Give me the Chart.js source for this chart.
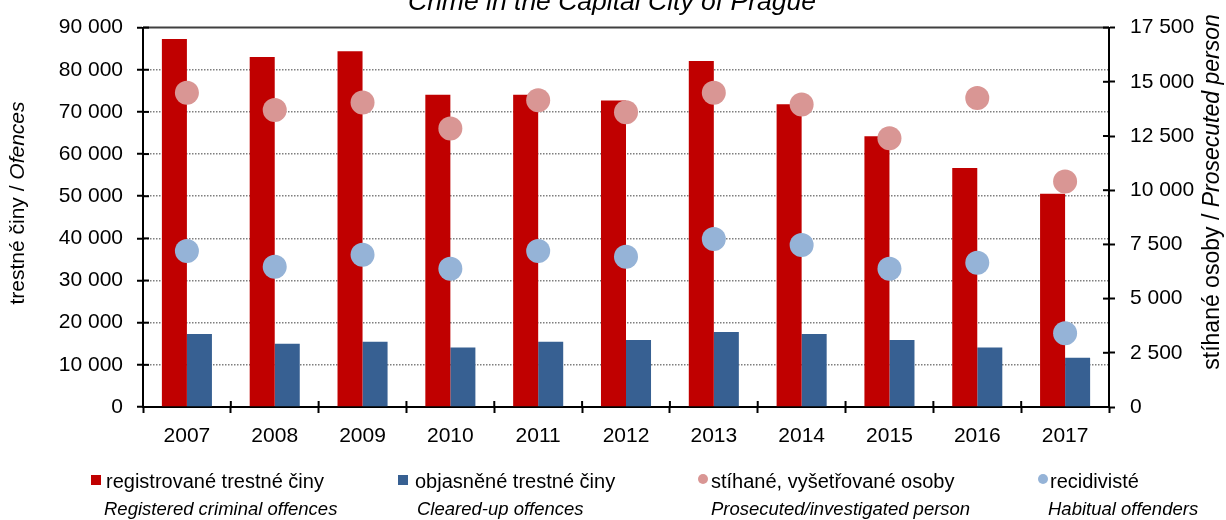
<!DOCTYPE html>
<html>
<head>
<meta charset="utf-8">
<title>Kriminalita v hl. m. Praze</title>
<script src="https://cdn.jsdelivr.net/npm/chart.js@4.4.1/dist/chart.umd.min.js"></script>
<style>
  html, body { margin: 0; padding: 0; background: #ffffff; }
  #wrap { width: 1226px; height: 520px; position: relative; }
</style>
</head>
<body>
<div id="wrap"><canvas id="crimeChart" width="1226" height="520"></canvas></div>
<script>
// years on the x axis
var years = ['2007', '2008', '2009', '2010', '2011', '2012', '2013', '2014', '2015', '2016', '2017'];

// offences (left axis)
var registeredOffences = [87300, 83000, 84400, 74100, 74100, 72700, 82100, 71800, 64200, 56700, 50600];
var clearedOffences = [17300, 15000, 15500, 14100, 15500, 15900, 17800, 17300, 15900, 14100, 11700];

// persons (right axis)
var prosecutedPersons = [14500, 13700, 14050, 12850, 14150, 13600, 14500, 13950, 12400, 14250, 10400];
var habitualOffenders = [7200, 6470, 7020, 6380, 7200, 6930, 7750, 7470, 6380, 6650, 3400];

// tick labels
var offenceTicks = [0, 10000, 20000, 30000, 40000, 50000, 60000, 70000, 80000, 90000];
var personTicks = [0, 2500, 5000, 7500, 10000, 12500, 15000, 17500];

// texts
var chartTitle = 'Crime in the Capital City of Prague';
var seriesCz = ['registrované trestné činy', 'objasněné trestné činy', 'stíhané, vyšetřované osoby', 'recidivisté'];
var seriesEn = ['Registered criminal offences', 'Cleared-up offences', 'Prosecuted/investigated person', 'Habitual offenders'];
var leftTitle = [['trestné činy / ', false], ['Ofences', true]];
var rightTitle = [['stíhané osoby / ', false], ['Prosecuted person', true]];

var FONT = '"Liberation Sans", Arial, sans-serif';

function spaced(v) {
    return String(v).replace(/\B(?=(\d{3})+(?!\d))/g, ' ');
}

function fontStr(size, italic) {
    return (italic ? 'italic ' : '') + size + 'px ' + FONT;
}

// rotated axis title made of plain and italic pieces
function drawVerticalTitle(ctx, parts, cx, cy, size) {
    var total = 0;
    var widths = parts.map(function(p) {
        ctx.font = fontStr(size, p[1]);
        var w = ctx.measureText(p[0]).width;
        total += w;
        return w;
    });
    ctx.save();
    ctx.translate(cx, cy);
    ctx.rotate(-Math.PI / 2);
    ctx.textAlign = 'left';
    ctx.textBaseline = 'middle';
    ctx.fillStyle = '#000';
    var pos = -total / 2;
    parts.forEach(function(p, i) {
        ctx.font = fontStr(size, p[1]);
        ctx.fillText(p[0], pos, 0);
        pos += widths[i];
    });
    ctx.restore();
}

function stroke(ctx, x1, y1, x2, y2) {
    ctx.beginPath();
    ctx.moveTo(x1, y1);
    ctx.lineTo(x2, y2);
    ctx.stroke();
}

var decorPlugin = {
    id: 'decor',
    afterDraw: function(chart) {
        var ctx = chart.ctx;
        var area = chart.chartArea;
        var xs = chart.scales.x, ys = chart.scales.y, ys1 = chart.scales.y1;
        ctx.save();

        // frame line on top of the plot
        ctx.strokeStyle = '#404040';
        ctx.lineWidth = 2;
        stroke(ctx, area.left, area.top, area.right, area.top);

        // inner half of every axis tick
        ctx.strokeStyle = '#000';
        ys.ticks.forEach(function(t) {
            var py = ys.getPixelForValue(t.value);
            stroke(ctx, area.left, py, area.left + 6, py);
        });
        ys1.ticks.forEach(function(t) {
            var py = ys1.getPixelForValue(t.value);
            stroke(ctx, area.right - 6, py, area.right, py);
        });
        var step = xs.getPixelForValue(1) - xs.getPixelForValue(0);
        for (var i = 0; i <= years.length; i++) {
            var px = xs.getPixelForValue(0) - step / 2 + i * step;
            stroke(ctx, px, area.bottom - 6, px, area.bottom);
        }

        // title, partly above the canvas edge
        ctx.fillStyle = '#000';
        ctx.font = fontStr(26.5, true);
        ctx.textAlign = 'center';
        ctx.textBaseline = 'alphabetic';
        ctx.fillText(chartTitle, 612, 10);

        drawVerticalTitle(ctx, leftTitle, 18, 203, 21);
        drawVerticalTitle(ctx, rightTitle, 1213, 192, 23);

        // legend: two text lines per series
        var markX = [91, 398, 700, 1040];
        var textX = [106, 415, 711, 1050];
        var enX = [104, 417, 711, 1048];
        chart.data.datasets.forEach(function(ds, k) {
            ctx.fillStyle = ds.backgroundColor;
            if (ds.type === 'bar') {
                ctx.fillRect(markX[k], 475, 10, 10);
            } else {
                ctx.beginPath();
                ctx.arc(markX[k] + 3, 479, 5, 0, Math.PI * 2);
                ctx.fill();
            }
            ctx.fillStyle = '#000';
            ctx.textAlign = 'left';
            ctx.textBaseline = 'middle';
            ctx.font = fontStr(20, false);
            ctx.fillText(seriesCz[k], textX[k], 482);
            ctx.font = fontStr(18.5, true);
            ctx.fillText(seriesEn[k], enX[k], 510);
        });

        ctx.restore();
    }
};

var ctx = document.getElementById('crimeChart').getContext('2d');
var crimeChart = new Chart(ctx, {
    data: {
        labels: years,
        datasets: [{
            type: 'bar',
            label: seriesCz[0],
            data: registeredOffences,
            backgroundColor: '#C00000',
            yAxisID: 'y',
            order: 1,
            categoryPercentage: 0.57,
            barPercentage: 1.0
        }, {
            type: 'bar',
            label: seriesCz[1],
            data: clearedOffences,
            backgroundColor: '#376092',
            yAxisID: 'y',
            order: 1,
            categoryPercentage: 0.57,
            barPercentage: 1.0
        }, {
            type: 'line',
            label: seriesCz[2],
            data: prosecutedPersons,
            backgroundColor: '#D99694',
            borderColor: '#D99694',
            showLine: false,
            pointRadius: 12,
            pointBorderWidth: 0,
            yAxisID: 'y1',
            order: 0
        }, {
            type: 'line',
            label: seriesCz[3],
            data: habitualOffenders,
            backgroundColor: '#95B3D7',
            borderColor: '#95B3D7',
            showLine: false,
            pointRadius: 12,
            pointBorderWidth: 0,
            yAxisID: 'y1',
            order: 0
        }]
    },
    options: {
        responsive: false,
        animation: false,
        devicePixelRatio: 1,
        layout: { padding: { top: 23, bottom: 73, left: 0, right: 0 } },
        plugins: {
            legend: { display: false },
            title: { display: false },
            tooltip: { enabled: false }
        },
        scales: {
            x: {
                grid: { drawOnChartArea: false, tickLength: 6, tickColor: '#000', tickWidth: 2, offset: true },
                border: { color: '#000', width: 2 },
                ticks: { color: '#000', font: { family: FONT, size: 21 }, padding: 11 },
                afterFit: function(scale) { scale.height = 40; }
            },
            y: {
                position: 'left',
                min: 0,
                max: 90000,
                afterBuildTicks: function(scale) {
                    scale.ticks = offenceTicks.map(function(v) { return { value: v }; });
                },
                grid: {
                    color: function(c) {
                        var v = c.tick ? c.tick.value : 0;
                        return (v > 0 && v < 90000) ? '#7f7f7f' : 'rgba(0,0,0,0)';
                    },
                    lineWidth: 1.5,
                    tickLength: 6,
                    tickColor: '#000',
                    tickWidth: 2
                },
                border: { color: '#000', width: 2, dash: [1.5, 1.5] },
                ticks: {
                    color: '#000',
                    font: { family: FONT, size: 21 },
                    padding: 14,
                    callback: function(v) { return spaced(v); }
                },
                afterFit: function(scale) { scale.width = 143; }
            },
            y1: {
                position: 'right',
                min: 0,
                max: 17500,
                afterBuildTicks: function(scale) {
                    scale.ticks = personTicks.map(function(v) { return { value: v }; });
                },
                grid: { drawOnChartArea: false, tickLength: 6, tickColor: '#000', tickWidth: 2 },
                border: { color: '#000', width: 2 },
                ticks: {
                    color: '#000',
                    font: { family: FONT, size: 21 },
                    padding: 15,
                    callback: function(v) { return spaced(v); }
                },
                afterFit: function(scale) { scale.width = 117; }
            }
        }
    },
    plugins: [decorPlugin]
});
</script>
</body>
</html>
